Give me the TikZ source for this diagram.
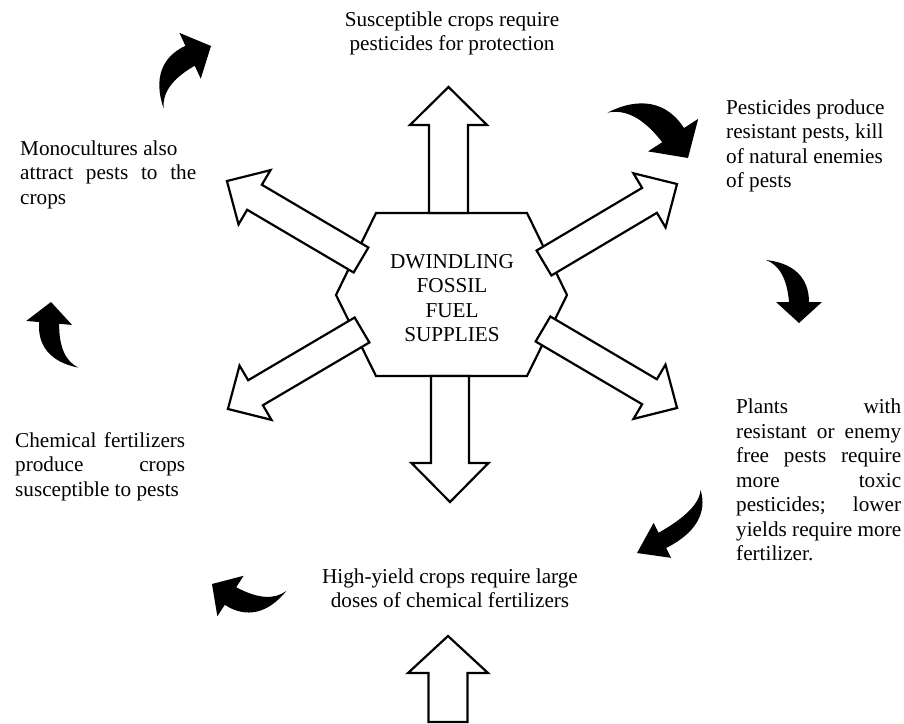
\documentclass[tikz,border=0pt]{standalone}
\usepackage{fontspec}
\setmainfont{Liberation Serif}
\newcommand\jline[1]{\makebox[\linewidth][s]{#1}}
\begin{document}
\begin{tikzpicture}[x=1pt,y=-1pt,
  hollow/.style={draw=black, line width=2.2pt, fill=white, line join=miter},
  hexa/.style={draw=black, line width=2.2pt, fill=white},
  lbl/.style={inner sep=0pt, font=\fontsize{21.2}{24.5}\selectfont},
  pics/hollowarrow/.style args={#1/#2/#3/#4}{code={
    \draw[hollow] (0,-#2) -- ({#1-#4},-#2) -- ({#1-#4},-#3) -- (#1,0)
      -- ({#1-#4},#3) -- ({#1-#4},#2) -- (0,#2) -- cycle;}},
  pics/curvedarrow/.style={code={
    \fill[black] (0,0) -- (23,-21) -- (10,-21) .. controls (10,-45) and (-5,-60) .. (-33,-63)
      .. controls (-20,-58) and (-12,-45) .. (-10,-21) -- (-23,-21) -- cycle;}}]
\useasboundingbox (0,0) rectangle (904,723);

% central hexagon
\draw[hexa] (376,213) -- (527,213) -- (567,295) -- (527,376) -- (376,376) -- (336,295) -- cycle;

% hollow block arrows
\pic[rotate=90]     at (448.5,213) {hollowarrow=126/19.5/38.5/38};
\pic[rotate=-90]    at (450,376)   {hollowarrow=126/19/38.5/39};
\pic[rotate=149.5]  at (361,260)   {hollowarrow=155.6/14.5/31.5/32};
\pic[rotate=30.7]   at (544,263)   {hollowarrow=154.7/14.5/31.5/32};
\pic[rotate=210.5]  at (362,330)   {hollowarrow=155.6/14.5/31.5/32};
\pic[rotate=-30.5]  at (543,329)   {hollowarrow=155.6/14.5/31.5/32};
\pic[rotate=90]     at (448,722)   {hollowarrow=86/19.5/40/37};

\node[lbl, align=center] (hub) at (452,298) {DWINDLING\\FOSSIL\\FUEL\\SUPPLIES};

% curved black arrows
\pic[rotate=115, scale=1.1]  at (211,46)  {curvedarrow};
\pic[rotate=33, scale=1.3]   at (688,158) {curvedarrow};
\pic                         at (799,323) {curvedarrow};
\pic[rotate=-63.5, xscale=0.85, yscale=1.35] at (637,553) {curvedarrow};
\pic[rotate=237, scale=1.05] at (212,584) {curvedarrow};
\pic[rotate=175]             at (51,302)  {curvedarrow};

% texts
\node[lbl, anchor=base] (ttop) at (452,26)
  {\parbox[t]{250pt}{\centering Susceptible crops require\\ pesticides for protection}};
\node[lbl, anchor=base west] (tright) at (726,114)
  {\parbox[t]{170pt}{\raggedright Pesticides produce\\ resistant pests, kill\\ of natural enemies\\ of pests}};
\node[lbl, anchor=base west] (tlowright) at (736,413.5)
  {\parbox[t]{165pt}{\jline{Plants with}\\ \jline{resistant or enemy}\\ \jline{free pests require}\\
   \jline{more toxic}\\ \jline{pesticides; lower}\\ \jline{yields require more}\\ fertilizer.}};
\node[lbl, anchor=base] (tbottom) at (450,583)
  {\parbox[t]{300pt}{\centering High-yield crops require large\\ doses of chemical fertilizers}};
\node[lbl, anchor=base west] (tlowleft) at (15,447)
  {\parbox[t]{170pt}{\jline{Chemical fertilizers}\\ \jline{produce crops}\\ susceptible to pests}};
\node[lbl, anchor=base west] (tleft) at (20,155)
  {\parbox[t]{176pt}{Monocultures also\\ \jline{attract pests to the}\\ crops}};
\end{tikzpicture}
\end{document}
